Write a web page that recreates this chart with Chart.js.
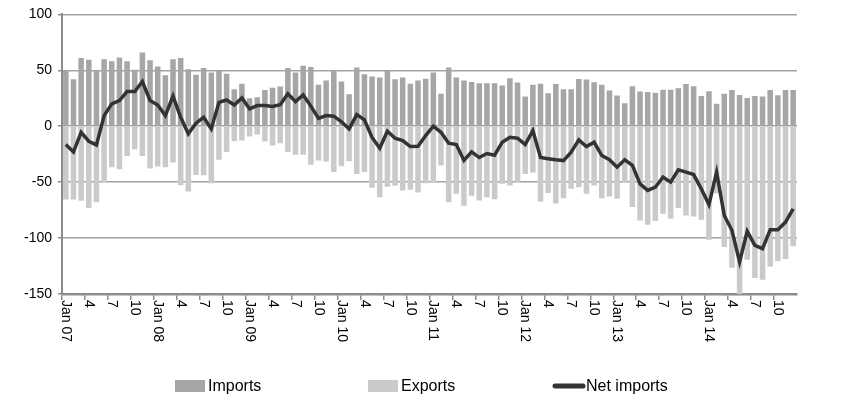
<!DOCTYPE html>
<html>
<head>
<meta charset="utf-8">
<script src="https://cdn.jsdelivr.net/npm/chart.js@4.4.1/dist/chart.umd.min.js"></script>
<style>
  html,body{margin:0;padding:0;background:#fff}
</style>
</head>
<body>
<canvas id="chart" width="846" height="404"></canvas>
<script>
// monthly series, Jan 07 .. Dec 14
const years = ['07','08','09','10','11','12','13','14']
const tickLabels = [
  'Jan 07','4','7','10','Jan 08','4','7','10','Jan 09','4','7','10','Jan 10','4','7','10',
  'Jan 11','4','7','10','Jan 12','4','7','10','Jan 13','4','7','10','Jan 14','4','7','10'
]
const imports = [
  50,42,61,59.5,50,60,58,61.5,58,50.5,66,59,
  53.5,45.5,60,61,51,46,52,48,50,47,33,38,
  25,26,32.5,34.5,35.5,52,48,54,53,37,41,50,
  40,28.5,52.5,46.5,44.5,43.5,49.5,42,43.5,38,41,42.5,
  48,29,52.5,43.5,41,39.5,38.5,38.5,38.5,36.5,43,39,
  26.5,37,38,29.5,37.8,33,33,42.3,41.7,39.3,37,32,
  27.5,20.5,35.7,31,30.7,30,32.7,32.7,34,37.8,35.7,27,
  31.3,20,29,32.4,28,25.3,27,26.5,32.4,27.7,32.4,32.4
]
const exports = [
  -65.5,-65.5,-66.7,-73,-68,-50,-36.6,-38.4,-26.5,-20.5,-26.5,-37.8,
  -36,-36.6,-32.4,-52.7,-58.3,-43.5,-43.8,-51,-30,-23,-13.4,-12.8,
  -9.2,-7.4,-13.7,-17.3,-15.2,-23,-25.6,-25.6,-34.5,-30.6,-31.5,-41,
  -35.7,-31.3,-42.6,-41,-55,-63.4,-54,-53.3,-57.4,-56.8,-59.2,-50.9,
  -50.3,-35,-68,-60.4,-71,-62.2,-66.4,-63.4,-65.2,-51.5,-53,-50,
  -42.6,-41.4,-67.5,-59.7,-69,-64.3,-56,-54.5,-60.4,-53,-64.3,-62.8,
  -64.9,-50.5,-72.3,-84.2,-88,-84.8,-78.3,-82.7,-73.2,-79.8,-80.7,-83.6,
  -101.5,-60,-108,-126.5,-150,-119.3,-135.7,-137.2,-125.3,-120.5,-118.8,-107.4
]
const netImports = [
  -16.4,-23,-5.4,-13.4,-16.7,9.5,20,23,31,31,40,23,
  19,9.5,27,8,-6.8,2.7,8,-2.4,21.4,23.5,19,25.3,
  15.5,18.5,18.5,17.6,19.3,29,22,28,18,7,9.5,9,
  4,-2.4,10.4,5.7,-10,-19.6,-4.5,-10.7,-12.8,-18.2,-17.9,-8.3,
  0,-5.4,-15.2,-16.4,-30.6,-22.9,-28,-24.4,-25.9,-14.3,-9.8,-10.7,
  -16.4,-3.9,-28,-29,-30,-30.7,-23.2,-12.2,-18.2,-14.3,-26.2,-30,
  -36.6,-30,-35,-51.5,-57.4,-54.5,-45.5,-50,-39,-41,-43.2,-56,
  -70,-41,-79.8,-93,-121.4,-94,-106.5,-109.5,-92.6,-92.6,-85.7,-73.8
]

const months = years.flatMap(y => Array.from({length:12}, (_,m) => (m+1)+'/'+y))

const FONT = '"Liberation Sans", Arial, sans-serif'
const IMP_COLOR = '#a6a6a6'
const EXP_COLOR = '#cacaca'
const NET_COLOR = '#333333'
const GRID = '#a3a3a3'
const AXIS = '#8c8c8c'

// x labels read top-to-bottom, drawn by hand at the category centres
const rotatedTicks = {
  id: 'rotatedTicks',
  afterDraw(chart){
    const xs = chart.scales.x, ctx = chart.ctx
    ctx.save()
    ctx.font = '14px ' + FONT
    ctx.fillStyle = '#000'
    ctx.textAlign = 'left'
    ctx.textBaseline = 'middle'
    tickLabels.forEach((t,k)=>{
      const x = xs.getPixelForValue(k*3)
      ctx.save()
      ctx.translate(x, chart.chartArea.bottom + 6)
      ctx.rotate(Math.PI/2)
      ctx.fillText(t, 0, 0)
      ctx.restore()
    })
    ctx.restore()
  }
}

// legend along the bottom, spaced like the original
const bottomLegend = {
  id: 'bottomLegend',
  afterDraw(chart){
    const ctx = chart.ctx, y = 386
    const items = [
      {x:175, text:'Imports', kind:'box', color:IMP_COLOR},
      {x:368, text:'Exports', kind:'box', color:EXP_COLOR},
      {x:553, text:'Net imports', kind:'line', color:NET_COLOR}
    ]
    ctx.save()
    ctx.font = '16px ' + FONT
    ctx.textBaseline = 'middle'
    ctx.textAlign = 'left'
    items.forEach(it=>{
      if(it.kind==='box'){ ctx.fillStyle = it.color; ctx.fillRect(it.x, y-6, 30, 12) }
      else { ctx.strokeStyle = it.color; ctx.lineWidth = 5; ctx.lineCap='round'; ctx.beginPath(); ctx.moveTo(it.x+2, y); ctx.lineTo(it.x+30, y); ctx.stroke() }
      ctx.fillStyle = '#000'
      ctx.fillText(it.text, it.x + 33, y + 1)
    })
    ctx.restore()
  }
}

new Chart(document.getElementById('chart'), {
  type: 'bar',
  data: {
    labels: months,
    datasets: [
      {type:'line', label:'Net imports', data:netImports, borderColor:NET_COLOR, backgroundColor:NET_COLOR,
       borderWidth:3.5, pointRadius:0, tension:0, order:0},
      {label:'Imports', data:imports, backgroundColor:IMP_COLOR, grouped:false, order:1},
      {label:'Exports', data:exports, backgroundColor:EXP_COLOR, grouped:false, order:1}
    ]
  },
  options: {
    responsive: false,
    animation: false,
    devicePixelRatio: 1,
    layout: {padding: {left:0, right:49, top:13, bottom:36}},
    datasets: {bar: {barPercentage:0.72, categoryPercentage:1}},
    plugins: {
      tooltip: {enabled:false},
      legend: {display:false}
    },
    scales: {
      x: {
        offset: true,
        ticks: {display:false, autoSkip:false},
        grid: {
          offset: true,
          drawOnChartArea: false,
          drawTicks: true,
          tickLength: 6,
          lineWidth: 1.5,
          tickColor: c => (c.index % 3 === 0 ? AXIS : 'rgba(0,0,0,0)')
        },
        border: {display:true, color:AXIS, width:2.5},
        afterFit: s => { s.height = 74 }
      },
      y: {
        min: -150, max: 100,
        ticks: {stepSize:50, color:'#000', padding:6, font:{family:FONT, size:14}},
        grid: {color:GRID, lineWidth:1.5, tickLength:4, tickColor:AXIS},
        border: {display:true, color:AXIS, width:2},
        afterFit: s => { s.width = 62 }
      }
    }
  },
  plugins: [rotatedTicks, bottomLegend]
})
</script>
</body>
</html>
